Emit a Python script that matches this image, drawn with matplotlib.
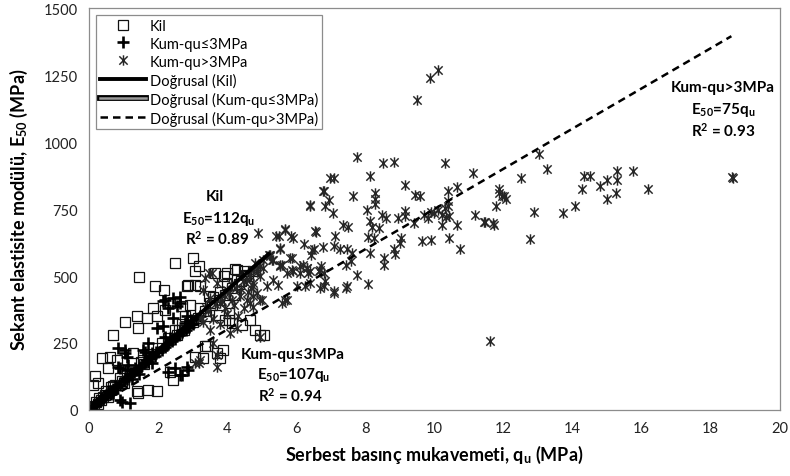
import matplotlib
matplotlib.use("Agg")
import matplotlib.pyplot as plt
import matplotlib.patheffects as pe
from matplotlib.path import Path

plt.rcParams['font.family'] = ['Lato', 'DejaVu Sans']
plt.rcParams['mathtext.fontset'] = 'custom'
plt.rcParams['mathtext.rm'] = 'Lato'
plt.rcParams['mathtext.bf'] = 'Lato:bold'
plt.rcParams['mathtext.it'] = 'Lato:italic'

# --- Kil (clay) points ---
kil_x = [2.49, 3.02, 3.17, 3.07, 1.46, 1.91, 2.18, 2.88, 3.07, 3.65, 3.99, 4.28, 1.04, 0.68,
         1.38, 1.67, 1.86, 1.96, 2.20, 2.35, 1.43, 2.69, 2.93, 2.78, 3.94, 4.14, 4.43, 4.81,
         4.96, 3.36, 3.70, 3.80, 3.07, 0.37, 0.61, 0.80, 1.28, 0.17, 0.27, 0.12, 2.44, 1.72,
         1.96, 1.43, 2.35, 0.56, 5.07, 4.67, 4.04, 4.23, 3.41, 3.89, 3.31, 2.83, 3.22, 3.46,
         3.75, 4.04, 1.38, 0.05, 0.10, 0.15, 0.20, 0.25, 0.30, 0.35, 0.45, 0.50, 0.55, 0.65,
         0.75, 0.90, 1.00, 1.10, 1.20, 1.50, 1.60, 2.00, 2.60, 3.50, 2.50, 2.70, 3.00, 3.20,
         3.40, 3.60, 3.80, 4.00, 4.20, 4.40, 4.60, 4.50, 3.90,
         2.10, 2.30, 2.55, 2.75, 2.95, 3.15, 3.35, 3.55, 3.75, 3.95, 4.15, 4.35, 4.55, 4.75,
         1.80, 1.55, 1.25, 0.95, 0.70, 0.40]
kil_y = [549, 567, 536, 517, 496, 464, 449, 468, 468, 511, 511, 524, 330, 278,
         349, 343, 380, 349, 374, 399, 306, 387, 393, 349, 337, 324, 318, 299,
         281, 237, 212, 193, 199, 193, 199, 187, 212, 125, 100, 94, 112, 75,
         69, 62, 143, 156, 281, 337, 337, 526, 237, 224, 193, 461, 461, 424,
         355, 362, 69, 8, 15, 10, 30, 22, 45, 38, 55, 70, 48, 85,
         95, 120, 100, 135, 150, 180, 170, 230, 300, 400, 300, 320, 330, 380,
         350, 420, 440, 470, 430, 480, 500, 520, 500,
         250, 270, 280, 300, 335, 345, 370, 390, 410, 430, 455, 470, 505, 520,
         210, 185, 150, 110, 90, 50]

# --- Kum qu<=3MPa points ---
kum1_x = [2.20, 2.64, 2.30, 2.54, 2.44, 2.83, 2.78, 1.96, 2.15, 2.20, 1.72, 1.57, 1.04, 1.09,
          0.85, 1.14, 1.33, 2.69, 2.88, 2.30, 2.49, 1.82, 0.95, 1.19, 0.70, 1.62, 1.82, 2.15,
          2.44, 2.64, 2.83, 2.64, 0.90, 1.04, 0.85, 1.09, 0.90,
          0.10, 0.20, 0.30, 0.40, 0.50, 0.60, 0.70, 0.80, 0.90, 1.00, 1.10, 1.20, 1.30, 1.40,
          1.50, 1.60, 1.70, 1.80, 1.90, 2.00, 2.10, 2.20, 2.30, 2.40, 2.50, 2.60, 2.70, 2.80,
          2.90, 3.00, 0.35, 0.65, 1.25, 1.75, 2.35, 2.95, 1.45, 0.55,
          0.15, 0.45, 0.75, 1.05, 1.35, 1.65, 1.95, 2.25, 2.55, 2.85, 3.10, 3.20]
kum1_y = [411, 422, 380, 387, 343, 349, 324, 306, 312, 274, 250, 224, 224, 199,
          162, 168, 156, 131, 150, 143, 156, 175, 31, 25, 62, 218, 212, 405,
          418, 399, 162, 131, 37, 212, 231, 150, 156,
          12, 20, 35, 40, 55, 62, 78, 85, 95, 110, 115, 130, 140, 150,
          160, 175, 180, 195, 200, 215, 225, 235, 245, 258, 265, 280, 290, 300,
          310, 320, 45, 60, 115, 200, 270, 335, 135, 70,
          18, 50, 88, 120, 150, 185, 215, 248, 280, 310, 340, 350]

# --- Kum qu>3MPa points ---
kum2_x = [7.76, 8.50, 8.82, 10.31, 6.99, 7.08, 8.13, 9.14, 9.45, 9.59, 10.40, 10.66, 6.77, 6.94,
          6.39, 6.83, 7.05, 7.65, 8.28, 8.27, 8.29, 8.04, 8.49, 8.60, 8.95, 9.14, 9.16, 9.42,
          9.69, 9.81, 9.98, 10.22, 10.39, 10.43, 10.22, 10.66, 8.14, 8.39, 8.19, 7.34, 7.49, 4.88,
          5.41, 5.67, 5.85, 6.56, 6.23, 5.52, 6.45, 6.77, 7.13, 7.10, 7.28, 7.47, 7.61, 8.08,
          8.24, 9.03, 8.99, 9.64, 9.91, 10.42, 10.75, 8.82, 8.85, 8.53, 8.53, 8.14, 7.59, 7.45,
          7.76, 8.07, 7.45, 7.08, 6.70, 6.72, 6.65, 6.81, 6.42, 6.50, 6.21, 6.12, 5.87, 5.59,
          5.54, 5.34, 6.26, 6.02, 5.47, 5.68, 5.20, 5.05, 4.96, 5.00, 4.86, 4.76, 4.67, 4.74,
          11.12, 11.86, 12.01, 11.77, 12.51, 12.88, 12.76, 13.02, 13.27, 11.62, 11.19, 11.48,
          11.74, 11.86, 11.96, 12.06, 11.70, 11.43, 13.73, 14.07, 14.28, 14.33, 14.52, 14.79,
          15.00, 15.00, 15.25, 15.30, 15.30, 15.76, 16.19, 18.66, 18.63,
          10.10, 9.88, 9.50,
          5.25, 5.54, 6.12, 6.31, 6.70, 6.84, 7.08, 7.47, 4.38, 4.57, 4.76, 4.96, 4.09, 4.28,
          3.60, 3.70, 3.22, 3.07, 4.96, 5.73, 5.59, 5.34, 5.92, 5.83, 3.46, 3.70, 3.99, 3.31,
          3.51, 4.57, 4.76, 6.41, 6.79, 4.81, 4.86, 4.96, 4.76, 5.15, 5.25, 5.54, 5.73, 5.87,
          5.49, 5.68, 5.92, 6.55, 6.41, 6.79, 3.55, 3.36, 3.70, 3.17,
          3.40, 3.60, 3.80, 4.00, 4.20, 4.40, 3.90, 4.10, 4.30, 3.30, 4.50, 4.60, 3.50, 3.80,
          9.90, 10.10, 10.30, 10.40, 10.35, 6.30, 6.35, 6.40,
          3.25, 3.45, 3.65, 3.85, 4.05, 4.25, 4.45, 4.65, 4.85, 5.05, 5.30, 3.95, 4.15, 4.70]
kum2_y = [945, 920, 927, 923, 864, 867, 873, 838, 804, 800, 819, 832, 817, 783,
          764, 763, 736, 797, 808, 786, 767, 748, 729, 715, 715, 742, 723, 696,
          729, 715, 736, 729, 761, 723, 692, 692, 704, 680, 683, 691, 683, 661,
          648, 676, 651, 666, 621, 602, 596, 607, 648, 611, 599, 599, 586, 646,
          642, 640, 624, 630, 633, 643, 599, 599, 582, 567, 542, 586, 555, 542,
          505, 471, 455, 437, 455, 536, 517, 511, 580, 599, 542, 539, 567, 542,
          536, 561, 461, 461, 465, 411, 580, 561, 536, 411, 437, 461, 399, 424,
          883, 826, 798, 761, 865, 738, 639, 954, 900, 259, 729, 701,
          692, 811, 798, 788, 698, 701, 736, 761, 826, 873, 873, 835,
          857, 788, 811, 892, 860, 892, 826, 864, 868,
          1268, 1238, 1156,
          580, 605, 511, 530, 524, 480, 443, 461, 424, 411, 386, 411, 287, 306,
          250, 206, 187, 175, 274, 411, 399, 486, 517, 567, 511, 474, 449, 449,
          418, 486, 524, 474, 461, 549, 524, 499, 474, 461, 574, 542, 511, 524,
          648, 673, 642, 667, 760, 817, 511, 493, 162, 175,
          380, 340, 400, 360, 390, 450, 430, 470, 350, 330, 380, 440, 300, 320,
          740, 745, 755, 780, 720, 530, 510, 520,
          345, 370, 395, 405, 435, 455, 480, 500, 515, 530, 560, 380, 410, 455]

# --- Linear fits ---
fit_kil_x = [0, 5.2]
fit_kil_y = [0, 582]
fit_kum1_x = [0, 3.0]
fit_kum1_y = [0, 321]
fit_kum2_x = [0, 18.6]
fit_kum2_y = [0, 1395]

x_ticks = [0, 2, 4, 6, 8, 10, 12, 14, 16, 18, 20]
y_ticks = [0, 250, 500, 750, 1000, 1250, 1500]

# Excel-like star marker: X with a vertical bar
star = Path([(-1, -1), (1, 1), (-1, 1), (1, -1), (0, -1.25), (0, 1.25)],
            [Path.MOVETO, Path.LINETO, Path.MOVETO, Path.LINETO, Path.MOVETO, Path.LINETO])

fig = plt.figure(figsize=(7.9, 4.77), dpi=100)
ax = fig.add_axes([0.1127, 0.1384, 0.8743, 0.8426])

ax.plot(kil_x, kil_y, linestyle="none", marker="s", markersize=6.5, markerfacecolor="none",
        markeredgecolor="#111111", markeredgewidth=0.9, label="Kil")
ax.plot(kum1_x, kum1_y, linestyle="none", marker="+", markersize=8, markeredgewidth=1.9,
        color="black", label="Kum-qu≤3MPa")
ax.plot(kum2_x, kum2_y, linestyle="none", marker=star, markersize=7.5, markerfacecolor="none",
        markeredgecolor="#262626", markeredgewidth=1.05, label="Kum-qu>3MPa")

ax.plot(fit_kil_x, fit_kil_y, color="black", linewidth=2.8, label="Doğrusal (Kil)")
# the double line sits under the points, which hide most of it
ax.plot(fit_kum1_x, fit_kum1_y, color="#9a9a9a", linewidth=1.8, zorder=1.5,
        path_effects=[pe.Stroke(linewidth=4.2, foreground="black"), pe.Normal()],
        label="Doğrusal (Kum-qu≤3MPa)")
ax.plot(fit_kum2_x, fit_kum2_y, color="black", linewidth=1.8, linestyle=(0, (3, 2)),
        label="Doğrusal (Kum-qu>3MPa)")

ax.set_xlim(0, 20)
ax.set_ylim(0, 1500)
ax.set_xticks(x_ticks)
ax.set_yticks(y_ticks)
ax.tick_params(length=0, labelsize=10.5, pad=8, colors="#222222")
for s in ax.spines.values():
    s.set_color("#8c8c8c")
    s.set_linewidth(0.9)

ax.set_xlabel(r"Serbest basınç mukavemeti, q$_\mathbf{u}$ (MPa)", fontsize=13,
              fontweight="bold", labelpad=6)
ax.set_ylabel(r"Sekant elastisite modülü, E$_\mathbf{50}$ (MPa)", fontsize=13,
              fontweight="bold", labelpad=10)

tk = dict(ha="center", va="center", fontsize=11, fontweight="bold")
ax.text(3.65, 800, "Kil", **tk)
ax.text(3.74, 718, r"E$_\mathbf{50}$=112q$_\mathbf{u}$", **tk)
ax.text(3.7, 643, r"R$^\mathbf{2}$ = 0.89", **tk)
ax.text(5.91, 210, "Kum-qu≤3MPa", **tk)
ax.text(5.91, 135, r"E$_\mathbf{50}$=107q$_\mathbf{u}$", **tk)
ax.text(5.82, 56, r"R$^\mathbf{2}$ = 0.94", **tk)
ax.text(18.35, 1205, "Kum-qu>3MPa", **tk)
ax.text(18.35, 1122, r"E$_\mathbf{50}$=75q$_\mathbf{u}$", **tk)
ax.text(18.35, 1044, r"R$^\mathbf{2}$ = 0.93", **tk)

leg = ax.legend(loc="upper left", bbox_to_anchor=(0.006, 0.99), fontsize=10.5, frameon=True,
                fancybox=False, framealpha=1, edgecolor="#8c8c8c", handlelength=3.2,
                handletextpad=0.25, labelspacing=0.27, borderpad=0.25, borderaxespad=0.2)
leg.get_frame().set_linewidth(0.9)

fig.savefig("out.png", dpi=100)
